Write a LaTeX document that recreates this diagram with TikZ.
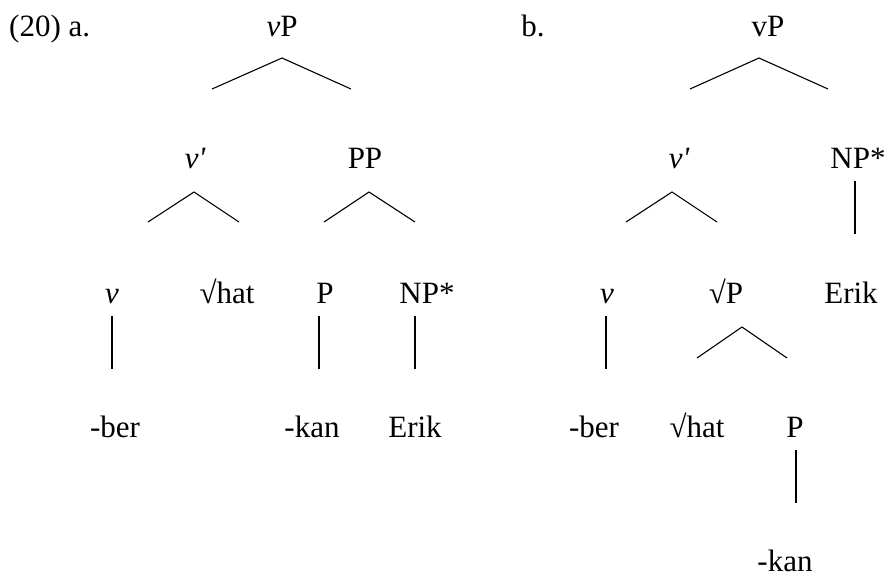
\documentclass[tikz,border=0pt]{standalone}
\usepackage{fontspec}
\setmainfont{Liberation Serif}
\newfontfamily\rawserif{Liberation Serif}
\begin{document}
\begin{tikzpicture}[x=1pt,y=1pt,
  lbl/.style={anchor=base,inner sep=0pt,font=\fontsize{31}{37}\selectfont},
  branch/.style={line width=1.1pt,line cap=butt,line join=miter}]
\useasboundingbox (0,0) rectangle (887,-576);
% ---- tree a ----
\node[lbl,anchor=base west] (lab) at (9,-36) {(20) a.};
\node[lbl] (aVP) at (282,-36) {\textit{v}P};
\node[lbl] (avbar) at (195,-168) {{\rawserif\itshape v'}};
\node[lbl] (aPP) at (365,-168) {PP};
\node[lbl] (av) at (112,-303) {\textit{v}};
\node[lbl] (ahat) at (227,-303) {√hat};
\node[lbl] (aP) at (325,-303) {P};
\node[lbl] (aNP) at (427,-303) {NP*};
\node[lbl] (aber) at (115,-437) {-ber};
\node[lbl] (akan) at (312,-437) {-kan};
\node[lbl] (aErik) at (415,-437) {Erik};
% ---- tree b ----
\node[lbl] (blab) at (533,-36) {b.};
\node[lbl] (bVP) at (768,-36) {vP};
\node[lbl] (bvbar) at (679,-168) {{\rawserif\itshape v'}};
\node[lbl] (bNP) at (858,-168) {NP*};
\node[lbl] (bv) at (607,-303) {\textit{v}};
\node[lbl] (broot) at (726,-303) {√P};
\node[lbl] (bErik) at (851,-303) {Erik};
\node[lbl] (bber) at (594,-437) {-ber};
\node[lbl] (bhat) at (697,-437) {√hat};
\node[lbl] (bP) at (795,-437) {P};
\node[lbl] (bkan) at (785,-571) {-kan};
% ---- branch coordinates a ----
\coordinate (aT1) at (212,-89); \coordinate (aT0) at (282,-58); \coordinate (aT2) at (351,-89);
\coordinate (aV1) at (148,-222); \coordinate (aV0) at (194,-192); \coordinate (aV2) at (239,-222);
\coordinate (aQ1) at (324,-222); \coordinate (aQ0) at (369,-192); \coordinate (aQ2) at (415,-222);
\coordinate (av0) at (112,-316); \coordinate (av1) at (112,-369);
\coordinate (aP0) at (319,-316); \coordinate (aP1) at (319,-369);
\coordinate (aN0) at (415,-316); \coordinate (aN1) at (415,-369);
\draw[branch] (aT1) -- (aT0) -- (aT2);
\draw[branch] (aV1) -- (aV0) -- (aV2);
\draw[branch] (aQ1) -- (aQ0) -- (aQ2);
\draw[branch] (av0) -- (av1);
\draw[branch] (aP0) -- (aP1);
\draw[branch] (aN0) -- (aN1);
% ---- branch coordinates b ----
\coordinate (bT1) at (690,-89); \coordinate (bT0) at (759,-58); \coordinate (bT2) at (828,-89);
\coordinate (bV1) at (626,-222); \coordinate (bV0) at (672,-192); \coordinate (bV2) at (717,-222);
\coordinate (bN0) at (855,-181); \coordinate (bN1) at (855,-234);
\coordinate (bv0) at (606,-316); \coordinate (bv1) at (606,-369);
\coordinate (bR1) at (697,-358); \coordinate (bR0) at (742,-327); \coordinate (bR2) at (787,-358);
\coordinate (bP0) at (796,-450); \coordinate (bP1) at (796,-503);
\draw[branch] (bT1) -- (bT0) -- (bT2);
\draw[branch] (bV1) -- (bV0) -- (bV2);
\draw[branch] (bN0) -- (bN1);
\draw[branch] (bv0) -- (bv1);
\draw[branch] (bR1) -- (bR0) -- (bR2);
\draw[branch] (bP0) -- (bP1);
\end{tikzpicture}
\end{document}
